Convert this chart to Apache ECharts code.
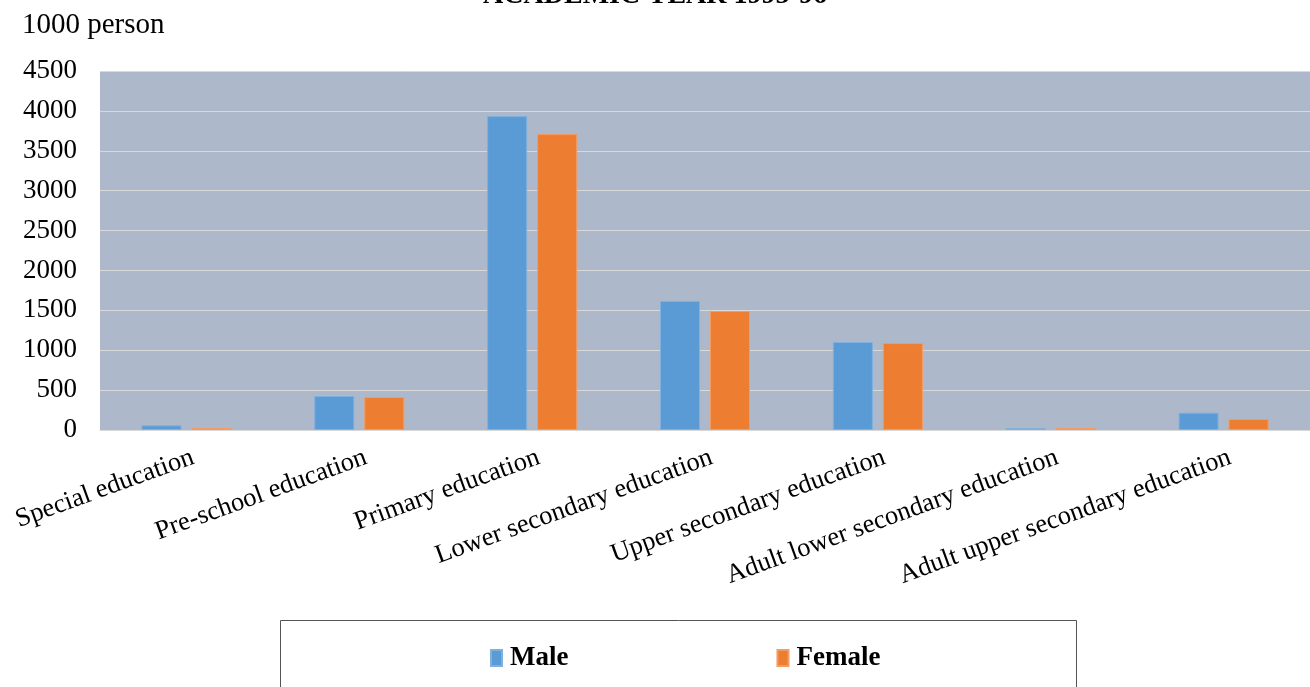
<!DOCTYPE html>
<html><head><meta charset="utf-8">
<script src="https://cdn.jsdelivr.net/npm/echarts@6/dist/echarts.min.js"></script>
<style>html,body{margin:0;padding:0;background:#fff}#c{width:1310px;height:687px}</style>
</head><body><div id="c"></div>
<script>
const categories = ["Special education","Pre-school education","Primary education","Lower secondary education","Upper secondary education","Adult lower secondary education","Adult upper secondary education"];
const male = [59, 426, 3935, 1617, 1103, 25, 217];
const female = [25, 413, 3709, 1491, 1090, 25, 138];
const yTicks = [0, 500, 1000, 1500, 2000, 2500, 3000, 3500, 4000, 4500];
const seriesNames = ["Male", "Female"];

const font = "'Liberation Serif','Times New Roman',serif";
const chart = echarts.init(document.getElementById('c'));
chart.setOption({
  animation: false,
  title: { text: "ACADEMIC YEAR 1995-96", left: 'center', top: -23,
    textStyle: { fontFamily: font, fontSize: 28, fontWeight: 'bold', color: '#000' } },
  graphic: [{ type: 'rect', shape: { x: 280.5, y: 620.5, width: 796, height: 80 },
    style: { fill: '#fff', stroke: '#555', lineWidth: 1 }, z: 0 }],
  legend: { data: seriesNames, top: 644, left: 490, padding: 0, itemGap: 208, itemWidth: 11, itemHeight: 16,
    icon: 'rect', textStyle: { fontFamily: font, fontSize: 27, lineHeight: 28, fontWeight: 'bold', color: '#000', padding: [0,0,0,3] }, z: 5 },
  grid: { left: 100, right: 0, top: 71, bottom: 257, show: true, backgroundColor: '#ADB9CA', borderWidth: 0 },
  xAxis: { type: 'category', data: categories,
    axisLine: { show: true, lineStyle: { color: '#D9D9D9', width: 1 } }, axisTick: { show: false },
    axisLabel: { rotate: 20, interval: 0, margin: 29, padding: [0,-7,0,0], fontFamily: font, fontSize: 26.5, color: '#000' } },
  yAxis: { type: 'value', min: 0, max: 4500, interval: 500,
    name: '1000 person', nameLocation: 'end', nameGap: 0,
    nameTextStyle: { fontFamily: font, fontSize: 29, color: '#000', align: 'left', verticalAlign: 'bottom', padding: [0,0,31,-78] },
    axisLine: { show: false }, axisTick: { show: false },
    splitLine: { lineStyle: { color: '#D9D9D9', width: 1 } },
    axisLabel: { margin: 23, fontFamily: font, fontSize: 27, color: '#000',
      formatter: v => yTicks.includes(v) ? String(v) : '' } },
  series: [
    { name: seriesNames[0], type: 'bar', data: male, barWidth: 40, barGap: '25%',
      itemStyle: { color: '#5B9BD5', borderColor: '#7FB0DE', borderWidth: 1 } },
    { name: seriesNames[1], type: 'bar', data: female, barWidth: 40,
      itemStyle: { color: '#ED7D31', borderColor: '#F29B63', borderWidth: 1 } }
  ]
});
</script></body></html>
